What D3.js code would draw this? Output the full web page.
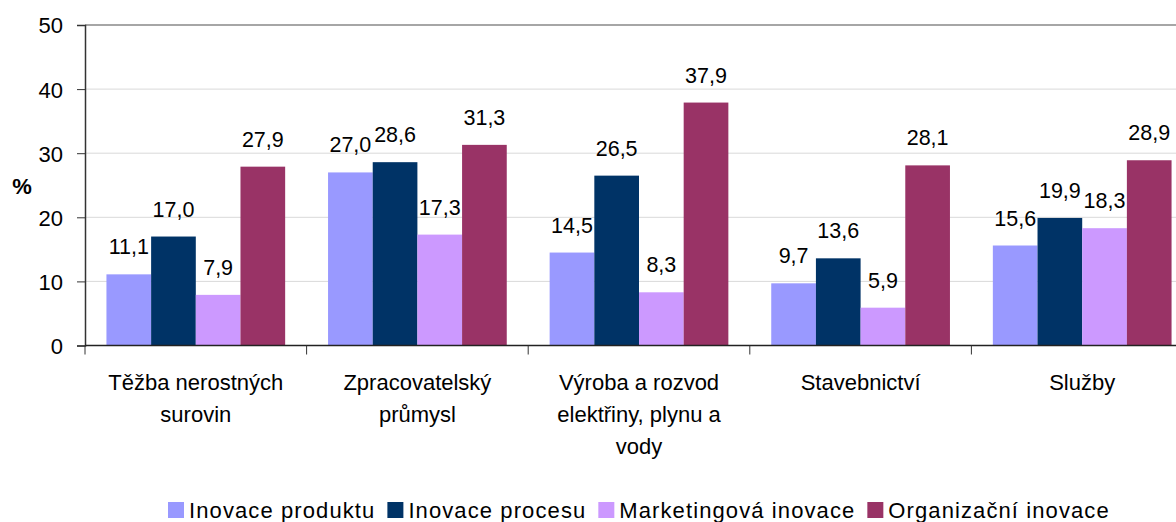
<!DOCTYPE html>
<meta charset="utf-8">
<style>
body { margin: 0; background: #fff; }
svg { display: block; font-family: "Liberation Sans", Arial, sans-serif; }
.tick text { font-size: 22px; fill: #000; }
.label { font-size: 21.5px; fill: #000; }
.cat { font-size: 22px; fill: #000; }
.legend text { font-size: 22px; fill: #000; letter-spacing: 1.1px; }
</style>
<svg width="1176" height="522"></svg>
<script src="https://d3js.org/d3.v7.min.js"></script>
<script>

var categories = [
  ["Těžba nerostných", "surovin"],
  ["Zpracovatelský", "průmysl"],
  ["Výroba a rozvod", "elektřiny, plynu a", "vody"],
  ["Stavebnictví"],
  ["Služby"]
];
var series = ["Inovace produktu", "Inovace procesu", "Marketingová inovace", "Organizační inovace"];
var colors = ["#9999ff", "#003366", "#cc99ff", "#993366"];

var produkt   = [11.1, 27.0, 14.5, 9.7, 15.6];
var proces    = [17.0, 28.6, 26.5, 13.6, 19.9];
var marketing = [7.9, 17.3, 8.3, 5.9, 18.3];
var organizace = [27.9, 31.3, 37.9, 28.1, 28.9];
var values = [produkt, proces, marketing, organizace];

var yTicks = [0, 10, 20, 30, 40, 50];

var svg = d3.select("svg");
var plotLeft = 85, plotRight = 1193, plotTop = 25, plotBottom = 345.5;

var x0 = d3.scaleBand().domain(d3.range(categories.length)).range([plotLeft, plotRight]);
var x1 = d3.scaleBand().domain(d3.range(series.length)).range([0, x0.bandwidth()]).paddingInner(0).paddingOuter(0.48);
var y = d3.scaleLinear().domain([0, 50]).range([plotBottom, plotTop]);

// gridlines
svg.append("g").selectAll("line")
  .data(yTicks.filter(d => d > 0))
  .join("line")
    .attr("x1", plotLeft).attr("x2", plotRight)
    .attr("y1", d => y(d)).attr("y2", d => y(d))
    .attr("stroke", d => d === 50 ? "#888" : "#d9d9d9")
    .attr("stroke-width", d => d === 50 ? 1.5 : 1);

// bars
var groups = svg.append("g").selectAll("g")
  .data(categories)
  .join("g")
    .attr("transform", (d, i) => "translate(" + x0(i) + ",0)");

groups.selectAll("rect")
  .data((d, i) => values.map((s, j) => ({ s: j, v: s[i] })))
  .join("rect")
    .attr("x", d => x1(d.s))
    .attr("width", x1.bandwidth())
    .attr("y", d => y(d.v))
    .attr("height", d => y(0) - y(d.v))
    .attr("fill", d => colors[d.s]);

groups.selectAll("text")
  .data((d, i) => values.map((s, j) => ({ s: j, v: s[i] })))
  .join("text")
    .attr("class", "label")
    .attr("x", d => x1(d.s) + x1.bandwidth() / 2)
    .attr("y", d => y(d.v) - 20)
    .attr("text-anchor", "middle")
    .text(d => d3.format(".1f")(d.v).replace(".", ","));

// y axis
var yAxis = svg.append("g")
  .attr("transform", "translate(" + plotLeft + ",0)")
  .call(d3.axisLeft(y).tickValues(yTicks).tickSize(8).tickPadding(14));
yAxis.select(".domain").attr("stroke", "#333").attr("stroke-width", 1.5);
yAxis.selectAll(".tick line").attr("stroke", "#333");
yAxis.selectAll(".tick text").attr("dy", "0.36em");

// x axis
svg.append("line")
  .attr("x1", plotLeft).attr("x2", plotRight)
  .attr("y1", y(0)).attr("y2", y(0))
  .attr("stroke", "#222").attr("stroke-width", 1.5);
svg.append("g").selectAll("line")
  .data(d3.range(categories.length + 1))
  .join("line")
    .attr("x1", i => plotLeft + i * x0.step()).attr("x2", i => plotLeft + i * x0.step())
    .attr("y1", y(0)).attr("y2", y(0) + 9)
    .attr("stroke", "#333");

// category labels
svg.append("g").selectAll("text")
  .data(categories)
  .join("text")
    .attr("class", "cat")
    .attr("text-anchor", "middle")
    .attr("transform", (d, i) => "translate(" + (x0(i) + x0.bandwidth() / 2) + "," + 390 + ")")
    .selectAll("tspan")
    .data(d => d)
    .join("tspan")
      .attr("x", 0)
      .attr("y", (d, i) => i * 32)
      .text(d => d);

// y title
svg.append("text")
  .attr("x", 22).attr("y", 194)
  .attr("text-anchor", "middle")
  .style("font-size", "22px").style("font-weight", "bold")
  .text("%");

// legend
var legend = svg.append("g").attr("class", "legend");
var lx = 168;
series.forEach(function(name, i) {
  legend.append("rect")
    .attr("x", lx).attr("y", 502).attr("width", 16).attr("height", 16)
    .attr("fill", colors[i]);
  var t = legend.append("text")
    .attr("x", lx + 21).attr("y", 518)
    .text(name);
  lx += 21 + t.node().getComputedTextLength() + 12;
});

</script>
